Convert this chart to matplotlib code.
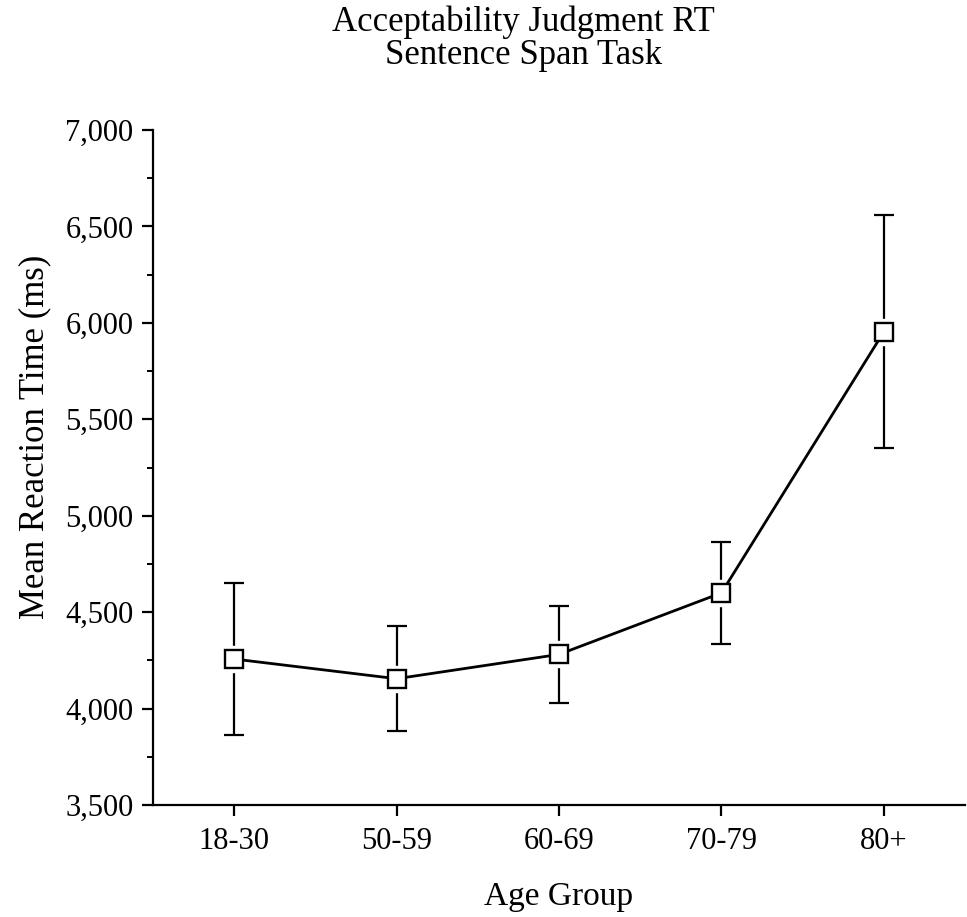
import matplotlib
matplotlib.use("Agg")
import matplotlib.pyplot as plt
from matplotlib.ticker import MultipleLocator, FuncFormatter

groups = ["18-30", "50-59", "60-69", "70-79", "80+"]
mean_rt = [4257, 4155, 4281, 4600, 5954]
err_rt = [394, 273, 251, 264, 603]
yticks = [3500, 4000, 4500, 5000, 5500, 6000, 6500, 7000]

plt.rcParams['font.family'] = ['Liberation Serif', 'DejaVu Serif']

fig = plt.figure(figsize=(9.67, 9.17), dpi=100)
ax = fig.add_axes([0.1582, 0.1221, 0.8398, 0.7361])

x = list(range(len(groups)))

ax.errorbar(x, mean_rt, yerr=err_rt, fmt='none', ecolor='black',
            elinewidth=1.6, capsize=7, capthick=1.6, zorder=1)
ax.plot(x, mean_rt, linestyle='none', marker='s', markersize=19,
        markerfacecolor='white', markeredgecolor='white', zorder=2)
ax.plot(x, mean_rt, color='black', linewidth=2.0, zorder=3)
ax.plot(x, mean_rt, linestyle='none', marker='s', markersize=12.5,
        markerfacecolor='white', markeredgecolor='black',
        markeredgewidth=1.7, zorder=4)

ax.set_xlim(-0.5, 4.5)
ax.set_ylim(3500, 7000)
ax.set_xticks(x)
ax.set_xticklabels(groups)
ax.set_yticks(yticks)
ax.yaxis.set_minor_locator(MultipleLocator(250))
ax.yaxis.set_major_formatter(FuncFormatter(lambda v, p: f"{int(v):,}"))

for s in ['top', 'right']:
    ax.spines[s].set_visible(False)
for s in ['left', 'bottom']:
    ax.spines[s].set_linewidth(1.6)

ax.tick_params(axis='both', which='major', direction='out', length=8,
               width=1.6, labelsize=22, pad=6)
ax.tick_params(axis='y', which='minor', direction='out', length=4, width=1.4)
ax.tick_params(axis='x', pad=8)

ax.set_xlabel("Age Group", fontsize=24, labelpad=18)
ax.set_ylabel("Mean Reaction Time (ms)", fontsize=25, labelpad=10)
ax.yaxis.label.set_y(0.545)

fig.text(0.541, 0.976, "Acceptability Judgment RT", ha='center', va='center', fontsize=25)
fig.text(0.541, 0.940, "Sentence Span Task", ha='center', va='center', fontsize=25)

fig.savefig("out.png", dpi=100)
